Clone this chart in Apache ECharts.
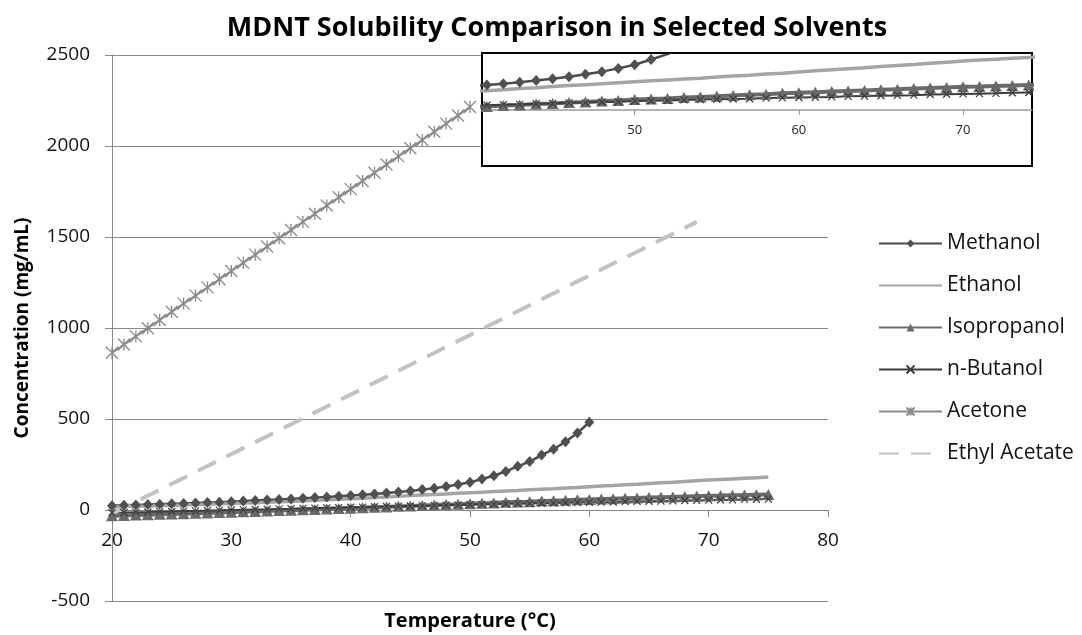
<!DOCTYPE html>
<html>
<head>
<meta charset="utf-8">
<script src="https://cdn.jsdelivr.net/npm/echarts@6/dist/echarts.min.js"></script>
<style>html,body{margin:0;padding:0;background:#fff;}#chart{width:1082px;height:635px;}</style>
</head>
<body>
<div id="chart"></div>
<script>
const temperature = [20,21,22,23,24,25,26,27,28,29,30,31,32,33,34,35,36,37,38,39,40,41,42,43,44,45,46,47,48,49,50,51,52,53,54,55,56,57,58,59,60,61,62,63,64,65,66,67,68,69,70,71,72,73,74,75];
const methanol = [24,26,28,30,32,34,36,38,41,43,46,49,52,55,58,61,65,68,72,76,80,84,88,93,99,105,112,120,129,140,152,170,188,212,240,266,302,334,375,423,482];
const ethanol = [18,19,21,22,24,26,28,30,32,34,36,38,40,42,45,47,50,53,56,59,62,65,68,72,75,79,82,85,88,92,95,98,101,104,107,111,114,117,121,124,128,132,135,139,142,146,150,153,157,161,165,168,171,174,177,181];
const isopropanol = [-32,-30,-28,-26,-24,-22,-20,-18,-16,-14,-12,-10,-8,-5,-3,-1,1,3,6,8,10,12,15,17,20,22,25,27,30,32,35,37,39,42,44,46,49,51,53,56,58,60,62,64,66,68,70,72,74,76,78,79,81,82,84,85];
const nButanol = [-15,-14,-12,-11,-9,-8,-6,-5,-3,-2,0,1,3,4,6,7,9,10,12,13,15,16,18,19,21,22,24,25,27,28,30,31,32,34,35,36,37,38,40,41,42,43,44,46,47,48,49,50,52,53,54,55,56,58,59,60];
const acetone = [864,909,954,999,1044,1089,1134,1178,1223,1268,1313,1358,1403,1448,1493,1538,1583,1628,1673,1718,1763,1808,1853,1898,1943,1988,2033,2078,2123,2168,2214];
const ethylAcetate = [-20,13,45,78,111,144,176,209,242,274,307,340,373,405,438,471,503,536,569,602,634,667,700,732,765,798,831,863,896,929,961,994,1027,1059,1092,1125,1158,1190,1223,1256,1288,1321,1354,1386,1419,1452,1485,1517,1550,1583];
const seriesNames = ['Methanol','Ethanol','Isopropanol','n-Butanol','Acetone','Ethyl Acetate'];
const insetTicks = [50,60,70];

const pairs = vals => vals.map((v, i) => [temperature[i], v]);

const FONT = 'Open Sans';
const asterisk = 'path://M0 0L10 10M10 0L0 10M5 0L5 10';
const xMark = 'path://M0 0L10 10M10 0L0 10';

function makeSeries(grid, z) {
  const idx = grid;
  const base = { type: 'line', xAxisIndex: idx, yAxisIndex: idx, z: z, animation: false, clip: true, smooth: false };
  const list = [
    Object.assign({}, base, { name: seriesNames[0], data: pairs(methanol), symbol: 'diamond', symbolSize: [10, 11],
      lineStyle: { color: '#4b4b4b', width: 2.5 }, itemStyle: { color: '#505050' } }),
    Object.assign({}, base, { name: seriesNames[1], data: pairs(ethanol), showSymbol: false, symbol: 'none',
      lineStyle: { color: '#a4a4a4', width: 3.5 }, itemStyle: { color: '#a4a4a4' } }),
    Object.assign({}, base, { name: seriesNames[2], data: pairs(isopropanol), symbol: 'triangle', symbolSize: [12, 11],
      lineStyle: { color: '#6a6a6a', width: 4 }, itemStyle: { color: '#6a6a6a' } }),
    Object.assign({}, base, { name: seriesNames[3], data: pairs(nButanol), symbol: xMark, symbolSize: 7,
      lineStyle: { color: '#3c3c3c', width: 2 }, itemStyle: { color: 'rgba(0,0,0,0)', borderColor: '#3c3c3c', borderWidth: 1.2 } })
  ];
  if (grid === 0) {
    list.push(Object.assign({}, base, { name: seriesNames[4], data: pairs(acetone), symbol: asterisk, symbolSize: 12,
      lineStyle: { color: '#8a8a8a', width: 2 }, itemStyle: { color: 'rgba(0,0,0,0)', borderColor: '#8a8a8a', borderWidth: 1.3 } }));
    list.push(Object.assign({}, base, { name: seriesNames[5], data: pairs(ethylAcetate), showSymbol: false, symbol: 'none',
      lineStyle: { color: '#c2c2c2', width: 4, type: [20, 12] }, itemStyle: { color: '#c2c2c2' } }));
  }
  return list;
}

const plainNum = v => String(v);

const chart = echarts.init(document.getElementById('chart'), null, { renderer: 'canvas' });
const option = {
  backgroundColor: '#ffffff',
  animation: false,
  textStyle: { fontFamily: FONT },
  graphic: [
    { type: 'text', x: 557, y: 28, z: 20, style: { text: 'MDNT Solubility Comparison in Selected Solvents', fontFamily: FONT, fontWeight: 'bold', fontSize: 27, fill: '#000', align: 'center', verticalAlign: 'middle' } },
    { type: 'rect', z: 5, shape: { x: 482, y: 53, width: 550, height: 113 }, style: { fill: '#ffffff', stroke: '#000000', lineWidth: 2 } }
  ],
  legend: {
    orient: 'vertical', left: 878, top: 233, padding: 0, itemWidth: 63, itemHeight: 10, itemGap: 21,
    data: [
      { name: 'Methanol' },
      { name: 'Ethanol', itemStyle: { opacity: 0 } },
      { name: 'Isopropanol' },
      { name: 'n-Butanol' },
      { name: 'Acetone' },
      { name: 'Ethyl Acetate', itemStyle: { opacity: 0 } }
    ],
    textStyle: { fontFamily: FONT, fontSize: 21, color: '#111' },
    selectedMode: false
  },
  grid: [
    { left: 112, right: 254, top: 55, bottom: 34, outerBoundsMode: 'none', containLabel: false },
    { left: 482, right: 50, top: 55, bottom: 525, z: 6, outerBoundsMode: 'none', containLabel: false }
  ],
  xAxis: [
    { type: 'value', gridIndex: 0, min: 20, max: 80, interval: 10, offset: -91,
      name: 'Temperature (°C)', nameLocation: 'middle', nameGap: 101,
      nameTextStyle: { fontFamily: FONT, fontWeight: 'bold', fontSize: 20, color: '#000' },
      axisLine: { show: true, onZero: false, lineStyle: { color: '#8a8a8a', width: 1 } },
      axisTick: { show: true, inside: false, length: 7, lineStyle: { color: '#8a8a8a' } },
      axisLabel: { fontFamily: FONT, fontSize: 19, color: '#111', margin: 21, formatter: plainNum },
      splitLine: { show: false } },
    { type: 'value', gridIndex: 1, min: 40.7, max: 74.2, z: 7,
      axisLine: { show: true, onZero: false, lineStyle: { color: '#9a9a9a', width: 1.5 } },
      axisTick: { show: true, inside: false, length: 5, customValues: insetTicks, lineStyle: { color: '#9a9a9a' } },
      axisLabel: { fontFamily: FONT, fontSize: 13, color: '#222', margin: 14, customValues: insetTicks, formatter: plainNum },
      splitLine: { show: false } }
  ],
  yAxis: [
    { type: 'value', gridIndex: 0, min: -500, max: 2500, interval: 500,
      name: 'Concentration (mg/mL)', nameLocation: 'middle', nameGap: 80, nameRotate: 90,
      nameTextStyle: { fontFamily: FONT, fontWeight: 'bold', fontSize: 19, color: '#000' },
      axisLine: { show: true, onZero: false, lineStyle: { color: '#8a8a8a', width: 1 } },
      axisTick: { show: true, inside: false, length: 7, lineStyle: { color: '#8a8a8a' } },
      axisLabel: { fontFamily: FONT, fontSize: 19, color: '#111', margin: 22, formatter: plainNum },
      splitLine: { show: true, lineStyle: { color: '#8a8a8a', width: 1 } } },
    { type: 'value', gridIndex: 1, min: 0, max: 185, show: false, splitLine: { show: false } }
  ],
  series: makeSeries(0, 2).concat(makeSeries(1, 8))
};
chart.setOption(option);
</script>
</body>
</html>
